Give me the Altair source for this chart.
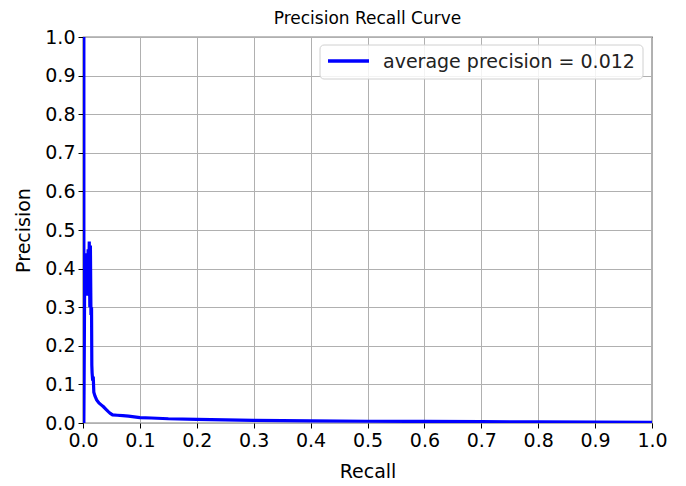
import altair as alt
import pandas as pd

recall = [0.0, 0.0015, 0.0015, 0.0025, 0.003, 0.004, 0.005, 0.006, 0.007, 0.008,
          0.009, 0.010, 0.011, 0.012, 0.013, 0.014, 0.015, 0.0155, 0.016, 0.017,
          0.018, 0.019, 0.021, 0.024, 0.028, 0.032, 0.036, 0.040, 0.044, 0.048,
          0.052, 0.06, 0.07, 0.08, 0.09, 0.10, 0.12, 0.15, 0.20, 0.25,
          0.30, 0.40, 0.50, 0.60, 0.70, 0.80, 0.90, 1.0]
precision = [1.0, 1.0, 0.0, 0.25, 0.40, 0.33, 0.44, 0.35, 0.42, 0.33,
             0.45, 0.36, 0.47, 0.30, 0.46, 0.28, 0.30, 0.15, 0.13, 0.11,
             0.12, 0.08, 0.07, 0.06, 0.052, 0.047, 0.042, 0.036, 0.030, 0.025,
             0.021, 0.020, 0.019, 0.018, 0.016, 0.014, 0.013, 0.011, 0.0095, 0.008,
             0.007, 0.0055, 0.0045, 0.004, 0.0035, 0.003, 0.0025, 0.002]
series_label = "average precision = 0.012"
ticks = [round(i * 0.1, 1) for i in range(11)]

df = pd.DataFrame({"Recall": recall, "Precision": precision,
                   "idx": list(range(len(recall)))})
leg_df = pd.DataFrame({"label": [series_label]})

font = "DejaVu Sans"
W, H = 569, 386

line = alt.Chart(df).mark_line(strokeWidth=3.2, clip=True, color="#0000ff").encode(
    x=alt.X("Recall:Q", scale=alt.Scale(domain=[0, 1], nice=False, zero=False),
            axis=alt.Axis(values=ticks, format=".1f", title="Recall")),
    y=alt.Y("Precision:Q", scale=alt.Scale(domain=[0, 1], nice=False, zero=False),
            axis=alt.Axis(values=ticks, format=".1f", title="Precision")),
    order="idx:Q",
)

# legend box (drawn by hand, matplotlib style)
leg_box = alt.Chart(leg_df).mark_rect(
    fill="white", fillOpacity=0.85, stroke="#d0d0d0", strokeWidth=1, cornerRadius=4
).encode(
    x=alt.value(W - 332), x2=alt.value(W - 9),
    y=alt.value(8), y2=alt.value(42),
)
leg_line = alt.Chart(leg_df).mark_rule(color="#0000ff", strokeWidth=3.4).encode(
    x=alt.value(W - 324), x2=alt.value(W - 283), y=alt.value(24),
)
leg_text = alt.Chart(leg_df).mark_text(
    align="left", baseline="middle", font=font, fontSize=19, color="#222222"
).encode(
    x=alt.value(W - 269), y=alt.value(25), text="label:N",
)

chart = alt.layer(line, leg_box, leg_line, leg_text).properties(
    width=W, height=H,
    title=alt.TitleParams("Precision Recall Curve", fontSize=17, font=font,
                          fontWeight="normal", offset=0, color="black"),
    autosize=alt.AutoSizeParams(type="none"),
    padding={"left": 75, "top": 29, "right": 26, "bottom": 62},
).configure_view(
    stroke="black", strokeWidth=1.2
).configure_axis(
    grid=True, gridColor="#b0b0b0", gridWidth=1,
    domain=False, tickColor="black", tickSize=5, tickWidth=1,
    labelFont=font, labelFontSize=19, labelColor="black", labelPadding=3,
    labelFlush=False, labelOverlap=False,
    titleFont=font, titleFontSize=19, titleFontWeight="normal", titleColor="black",
).configure_axisX(
    titlePadding=12
).configure_axisY(
    titlePadding=11
)

chart.save("out.html", embed_options={"renderer": "svg", "actions": False})
